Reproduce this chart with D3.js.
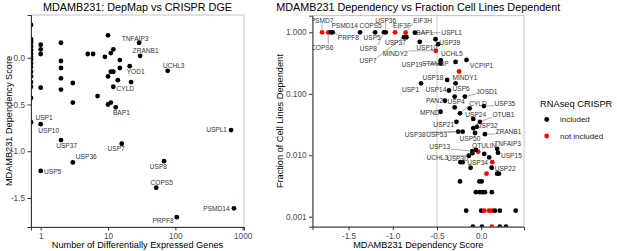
<!DOCTYPE html>
<html>
<head>
<meta charset="utf-8">
<script src="https://cdn.jsdelivr.net/npm/d3@7"></script>
<style>
  body { margin: 0; background: #fff; }
  svg { display: block; font-family: "Liberation Sans", Arial, sans-serif; }
</style>
</head>
<body>
<svg id="chart" width="617" height="251"></svg>
<script>
// Two panels: DepMap score vs number of DE genes, and score vs fraction of dependent lines.

// ---- left panel data ----
const degGenes = [
  "", "", "", "", "", "", "", "", "", "", "", "", "", "", "", "", "USP1",
  "", "", "", "", "USP10", "USP5",
  "", "", "", "", "", "USP37",
  "", "", "USP36",
  "", "", "", "",
  "", "", "",
  "", "", "",
  "", "", "CYLD",
  "BAP1", "", "", "", "USP7", "YOD1", "",
  "TNFAIP3", "ZRANB1", "COPS5", "USP8", "UCHL3", "PRPF8", "USPL1", "PSMD14"
];
const degCounts = [
  0, 0, 0, 0, 0, 0, 0, 0, 0, 0, 0, 0, 0, 0, 0, 0, 0,
  1, 1, 1, 1, 1, 1,
  2, 2, 2, 2, 2, 2,
  3, 3, 3,
  5, 6, 7, 9,
  10, 10, 10,
  11, 11, 11,
  12, 12, 12,
  13, 14, 15, 15, 16, 21, 22,
  29, 30, 52, 68, 77, 105, 673, 743
];
const degScores = [
  0.35, 0.20, 0.18, 0.16, 0.12, 0.08, 0.04, 0.01, -0.02, -0.06, -0.10, -0.15, -0.20, -0.26, -0.31, -0.43, -0.69,
  0.14, 0.09, 0.04, -0.32, -0.71, -1.21,
  0.16, -0.035, -0.11, -0.22, -0.34, -0.88,
  -0.27, -0.48, -1.12,
  0.04, 0.04, -0.41, 0.01,
  0.24, -0.20, -0.50,
  0.05, -0.15, -0.48,
  0.09, -0.15, -0.31,
  -0.53, -0.24, -0.025, -0.11, -0.92, -0.09, -0.26,
  0.16, 0.02, -1.39, -1.106, -0.14, -1.705, -0.774, -1.61
];
const degXTicks = [1, 10, 100, 1000];
const degYTicks = [0, -0.5, -1, -1.5];

// ---- right panel data ----
const depGenes = [
  "PSMD7", "COPS6", "PRPF8", "PSMD14", "COPS5", "USP5", "USP8", "USP36", "EIF3F", "EIF3H",
  "USPL1", "USP7", "USP37", "BAP1", "USP39", "USP10", "MINDY2", "STAMBP", "USP19", "UCHL5",
  "VCPIP1", "", "USP18", "MINDY1", "USP1", "USP14", "USP6", "JOSD1", "PAN2", "USP4",
  "CYLD", "USP24", "USP35", "MPND", "OTUB1", "USP32", "USP21", "USP38", "USP53", "USP50",
  "ZRANB1", "USP13", "OTULIN", "UCHL3", "USP30", "TNFAIP3", "USP15", "USP22", "USP34",
  "", "", "", "", "", "", "", "", "", "", "",
  "", "", "",
  "", "", "", "", "",
  "", "", "", "", "", "", "", "",
  "", "", "", "", ""
];
const depScores = [
  -1.80, -1.73, -1.70, -1.68, -1.37, -1.20, -1.10, -1.08, -0.975, -0.855,
  -0.75, -0.873, -0.846, -0.517, -0.488, -0.695, -0.514, -0.457, -0.46, -0.29,
  -0.166, -0.25, -0.385, -0.29, -0.68, -0.365, -0.30, -0.185, -0.41, -0.30,
  -0.24, -0.13, 0.03, -0.46, -0.015, -0.09, -0.28, -0.26, -0.21, -0.07,
  0.042, -0.10, -0.034, -0.14, -0.06, 0.18, 0.19, 0.18, -0.12,
  0.034, 0.09, 0.118, 0.125, 0.06, -0.235, -0.21, -0.10, 0.20, -0.05, -0.09,
  -0.24, -0.02, 0.005,
  -0.06, -0.015, 0.014, 0.042, 0.12,
  -0.17, 0.0, 0.034, 0.087, 0.12, 0.155, 0.21, 0.39,
  -0.094, 0.008, 0.12, 0.21, 0.28
];
const depFractions = [
  1, 1, 1, 1, 1, 1, 1, 1, 1, 0.985,
  0.985, 0.83, 0.83, 0.77, 0.64, 0.70, 0.50, 0.35, 0.31, 0.33,
  0.355, 0.23, 0.168, 0.148, 0.148, 0.113, 0.090, 0.090, 0.077, 0.060,
  0.048, 0.058, 0.063, 0.051, 0.035, 0.0275, 0.035, 0.0242, 0.0242, 0.023,
  0.022, 0.0117, 0.0114, 0.0098, 0.0122, 0.0127, 0.011, 0.005, 0.00625,
  0.0105, 0.0092, 0.00625, 0.0077, 0.005, 0.0077, 0.0077, 0.0108, 0.005, 0.029, 0.039,
  0.00375, 0.00375, 0.00375,
  0.0025, 0.0025, 0.0025, 0.0025, 0.0025,
  0.00125, 0.00125, 0.00125, 0.00125, 0.00125, 0.00125, 0.00125, 0.00125,
  0, 0, 0, 0, 0
];
const depIncluded = [
  false, false, true, true, true, true, true, true, false, false,
  true, true, true, true, true, true, false, true, true, true,
  true, false, true, true, true, true, true, true, true, true,
  true, true, true, true, true, true, true, true, true, true,
  true, true, false, true, true, true, true, true, true,
  true, true, true, false, false, true, true, true, true, true, true,
  true, true, true,
  true, true, true, true, true,
  true, true, false, false, false, true, true, true,
  true, true, false, true, true
];
const depXTicks = [-1.5, -1, -0.5, 0];
const depYTicks = [1, 0.1, 0.01, 0.001];
const legendLabels = ["included", "not included"];

// label nudges (px, label centre relative to point)
const degNudge = {
  TNFAIP3: [-4, -4.5], ZRANB1: [5.5, -5], UCHL3: [6, -5], YOD1: [6, 5.7],
  CYLD: [12, 2.3], BAP1: [5.7, 5.7], USP1: [13, -5], USP10: [8, 6.4],
  USP37: [5.7, 6], USP36: [13.5, -5.3], USP5: [12, 1], USP7: [-5.6, 5.3],
  USP8: [-5.7, 5.7], COPS5: [5.5, -5.3], PRPF8: [-13.7, 4], USPL1: [-14.5, 0],
  PSMD14: [-17.5, 0]
};
const depNudge = {
  PSMD7: [0, -12], COPS6: [-6, 15], PSMD14: [12, -7], PRPF8: [17.5, 5],
  COPS5: [10.5, -6.5], USP36: [0, -12], USP5: [-3, 5.5], USP8: [-15.5, 16],
  USP7: [-36, 23], USP37: [-11, 5], EIF3F: [7, -6.5], EIF3H: [17, -12],
  MINDY2: [-40.5, 2.6], USP10: [7, 6], BAP1: [-10.7, -7], USPL1: [36.7, 0],
  USP39: [11.7, -1.6], UCHL5: [-3.7, -7.7], VCPIP1: [15, 5.7], STAMBP: [-5.5, 3.7],
  USP19: [-28.5, 1], USP18: [-14.3, -2.3], MINDY1: [9.3, -5.8], USP1: [-10.5, 6],
  USP14: [-13, -0.5], USP6: [6.5, -7.4], JOSD1: [22, -5], PAN2: [-10.5, 0],
  USP4: [1.5, -5.6], MPND: [-10.7, 0.6], CYLD: [18, -10], USP35: [21, -2.7],
  USP24: [6, 6.7], OTUB1: [23.5, -7], USP32: [14, -2.3], USP21: [-12.7, 3.3],
  USP38: [-43, 3.3], USP53: [-26, 3.3], USP50: [-5, 5.5], ZRANB1: [23.5, -2],
  USP13: [-32.7, -4.3], OTULIN: [6, -6], TNFAIP3: [10.5, -5], USP15: [13.4, 3.3],
  USP22: [8, -5], UCHL3: [-31.5, 2.3], USP30: [-18.5, 8.3], USP34: [7, -4.7]
};

const svg = d3.select("#chart");
const tickColor = "#4d4d4d";
const dotR = 2.4;

const degData = degGenes.map((g, i) => ({ gene: g, count: degCounts[i], score: degScores[i] }));
const depData = depGenes.map((g, i) => ({
  gene: g, score: depScores[i], frac: depFractions[i], included: depIncluded[i]
}));

function styleAxis(sel) {
  sel.selectAll("text").attr("fill", tickColor).attr("font-size", 8.2);
  sel.selectAll("line").attr("stroke", "#333");
  sel.select(".domain").attr("stroke", "#222").attr("stroke-width", 0.9);
}

function drawPanel(box, x, y, xTicks, yTicks, xFmt, yFmt, id) {
  const g = svg.append("g");
  g.append("rect")
    .attr("x", box.left).attr("y", box.top)
    .attr("width", box.right - box.left).attr("height", box.bottom - box.top)
    .attr("fill", "none").attr("stroke", "#b3b3b3").attr("stroke-width", 0.8);
  svg.append("clipPath").attr("id", id)
    .append("rect")
    .attr("x", box.left).attr("y", box.top)
    .attr("width", box.right - box.left).attr("height", box.bottom - box.top);
  const plot = g.append("g").attr("clip-path", `url(#${id})`);
  const overlay = g.append("g");
  overlay.append("g")
    .attr("transform", `translate(0,${box.bottom})`)
    .call(d3.axisBottom(x).tickValues(xTicks).tickFormat(xFmt).tickSize(3.5).tickPadding(2.5))
    .call(styleAxis);
  overlay.append("g")
    .attr("transform", `translate(${box.left},0)`)
    .call(d3.axisLeft(y).tickValues(yTicks).tickFormat(yFmt).tickSize(3.5).tickPadding(2.5))
    .call(styleAxis);
  return { plot, overlay };
}

function drawLabels(layer, data, px, py, nudge, leaders) {
  data.filter(d => d.gene).forEach(d => {
    const [dx, dy] = nudge[d.gene] || [0, -5];
    const x0 = px(d), y0 = py(d);
    const t = layer.append("text")
      .attr("x", x0 + dx).attr("y", y0 + dy)
      .attr("dy", "0.35em")
      .attr("text-anchor", "middle")
      .attr("font-size", 6.6)
      .attr("fill", "#333")
      .text(d.gene);
    if (!leaders) return;
    const b = t.node().getBBox();
    const cx = Math.max(b.x, Math.min(x0, b.x + b.width));
    const cy = Math.max(b.y + 1, Math.min(y0, b.y + b.height - 1));
    const len = Math.hypot(cx - x0, cy - y0);
    if (len > 6) {
      const ux = (cx - x0) / len, uy = (cy - y0) / len;
      layer.insert("line", "text")
        .attr("x1", x0 + ux * 2.6).attr("y1", y0 + uy * 2.6)
        .attr("x2", cx - ux * 0.5).attr("y2", cy - uy * 0.5)
        .attr("stroke", "#555").attr("stroke-width", 0.5);
    }
  });
}

// ---- left panel ----
const L = { left: 31, right: 244, top: 15, bottom: 227 };
const xL = d3.scaleLog().domain([0.718, 1047]).range([L.left, L.right]);
const yL = d3.scaleLinear().domain([-1.81, 0.457]).range([L.bottom, L.top]);
const left = drawPanel(L, xL, yL, degXTicks, degYTicks, d3.format("d"), d => d.toFixed(1), "clipL");

const pxL = d => d.count > 0 ? xL(d.count) : L.left;
const pyL = d => yL(d.score);
left.plot.selectAll("circle")
  .data(degData)
  .join("circle")
  .attr("cx", pxL).attr("cy", pyL).attr("r", dotR)
  .attr("fill", "#000");
drawLabels(left.plot, degData, pxL, pyL, degNudge, false);

// ---- right panel ----
const R = { left: 312.5, right: 524, top: 15.7, bottom: 226.7 };
const xR = d3.scaleLinear().domain([-1.908, 0.484]).range([R.left, R.right]);
const yR = d3.scaleLog().domain([0.000687, 1.862]).range([R.bottom, R.top]);
const right = drawPanel(R, xR, yR, depXTicks, depYTicks, d => d.toFixed(1), d3.format(".3f"), "clipR");

right.plot.append("line")
  .attr("x1", xR(-0.5)).attr("x2", xR(-0.5))
  .attr("y1", R.top).attr("y2", R.bottom)
  .attr("stroke", "#c8c8c8").attr("stroke-width", 0.9);

const pxR = d => xR(d.score);
const pyR = d => d.frac > 0 ? yR(d.frac) : R.bottom;
right.plot.selectAll("circle")
  .data(depData)
  .join("circle")
  .attr("cx", pxR).attr("cy", pyR).attr("r", dotR)
  .attr("fill", d => d.included ? "#000" : "#f00");
const labelLayer = right.plot.append("g");
drawLabels(labelLayer, depData, pxR, pyR, depNudge, true);

// ---- titles ----
svg.append("text")
  .attr("x", (L.left + L.right) / 2).attr("y", 11)
  .attr("text-anchor", "middle").attr("font-size", 10.8).attr("fill", "#000")
  .text("MDAMB231: DepMap vs CRISPR DGE");
svg.append("text")
  .attr("x", (R.left + R.right) / 2).attr("y", 11)
  .attr("text-anchor", "middle").attr("font-size", 10.8).attr("fill", "#000")
  .text("MDAMB231 Dependency vs Fraction Cell Lines Dependent");

svg.append("text")
  .attr("x", (L.left + L.right) / 2).attr("y", 248)
  .attr("text-anchor", "middle").attr("font-size", 9.2)
  .text("Number of Differentially Expressed Genes");
svg.append("text")
  .attr("transform", `translate(11.5,${(L.top + L.bottom) / 2}) rotate(-90)`)
  .attr("text-anchor", "middle").attr("font-size", 9.2)
  .text("MDAMB231 Dependency Score");

svg.append("text")
  .attr("x", (R.left + R.right) / 2).attr("y", 248)
  .attr("text-anchor", "middle").attr("font-size", 9.2)
  .text("MDAMB231 Dependency Score");
svg.append("text")
  .attr("transform", `translate(282.5,${(R.top + R.bottom) / 2}) rotate(-90)`)
  .attr("text-anchor", "middle").attr("font-size", 9.2)
  .text("Fraction of Cell Lines Dependent");

// ---- legend ----
const legend = svg.append("g").attr("transform", "translate(540,0)");
legend.append("text")
  .attr("x", 0).attr("y", 107)
  .attr("font-size", 9.3)
  .text("RNAseq CRISPR");
legendLabels.forEach((lab, i) => {
  legend.append("circle")
    .attr("cx", 6.7).attr("cy", 119.5 + i * 16.5).attr("r", dotR)
    .attr("fill", i === 0 ? "#000" : "#f00");
  legend.append("text")
    .attr("x", 20).attr("y", 119.5 + i * 16.5)
    .attr("dy", "0.35em")
    .attr("font-size", 8).attr("fill", "#222")
    .text(lab);
});
</script>
</body>
</html>
